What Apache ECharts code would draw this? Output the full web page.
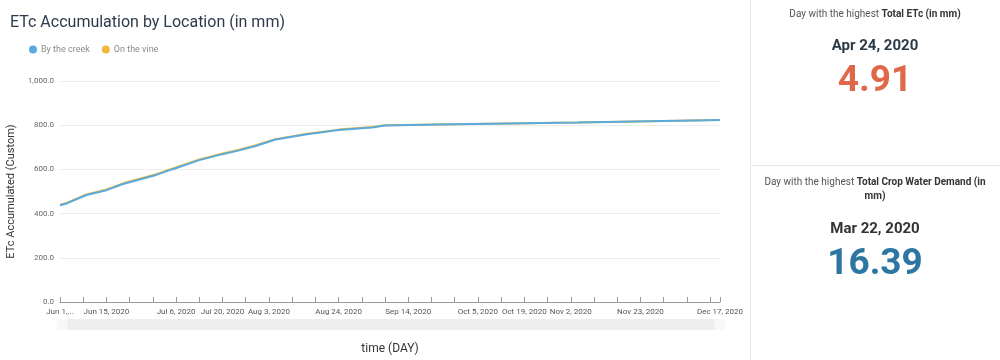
<!DOCTYPE html>
<html>
<head>
<meta charset="utf-8">
<script src="https://cdn.jsdelivr.net/npm/echarts@6/dist/echarts.min.js"></script>
<style>
html,body{margin:0;padding:0;background:#fff;}
#c{width:1000px;height:360px;}
</style>
</head>
<body>
<div id="c"></div>
<script>
// ---- data ----
var startDate = '2020-06-01';
var sampleDates = ['2020-06-01','2020-06-03','2020-06-09','2020-06-15','2020-06-20','2020-06-30','2020-07-05','2020-07-13','2020-07-20','2020-07-25','2020-07-30','2020-08-05','2020-08-14','2020-08-24','2020-09-03','2020-09-07','2020-09-23','2020-11-04','2020-12-17'];
var creekValues = [438,446,484,506,534,575,601,642,669,686,706,735,758,778,790,799,803,812,824];
var vineValues  = [440,448,487,509,537,578,604,645,672,689,709,737,760,780,792,800,803,812,824];
var tickLabelDates = ['2020-06-01','2020-06-15','2020-07-06','2020-07-20','2020-08-03','2020-08-24','2020-09-14','2020-10-05','2020-10-19','2020-11-02','2020-11-23','2020-12-17'];
var tickLabelTexts = ['Jun 1,...','Jun 15, 2020','Jul 6, 2020','Jul 20, 2020','Aug 3, 2020','Aug 24, 2020','Sep 14, 2020','Oct 5, 2020','Oct 19, 2020','Nov 2, 2020','Nov 23, 2020','Dec 17, 2020'];
var endDate = '2020-12-17';
var yTicks = [0,200,400,600,800,1000];
var card1 = {label:'Day with the highest ', bold:'Total ETc (in mm)', date:'Apr 24, 2020', value:'4.91'};
var card2 = {label:'Day with the highest ', bold:'Total Crop Water Demand (in', bold2:'mm)', date:'Mar 22, 2020', value:'16.39'};

function dayIndex(s){
  var p = s.split('-'), q = startDate.split('-');
  return Math.round((Date.UTC(+p[0],p[1]-1,+p[2]) - Date.UTC(+q[0],q[1]-1,+q[2]))/86400000);
}
var labelMap = {};
tickLabelDates.forEach(function(d,i){ labelMap[dayIndex(d)] = tickLabelTexts[i]; });
var creekData = sampleDates.map(function(d,i){ return [dayIndex(d), creekValues[i]]; });
var vineData = sampleDates.map(function(d,i){ return [dayIndex(d), vineValues[i]]; });

var font = 'Roboto, "Noto Sans", sans-serif';
var chart = echarts.init(document.getElementById('c'), null, {renderer:'canvas'});
chart.setOption({
  backgroundColor:'#fff',
  animation:false,
  textStyle:{fontFamily:font},
  title:{text:'ETc Accumulation by Location (in mm)', left:5, top:10,
    textStyle:{fontSize:16, fontWeight:'normal', color:'#2d3a4a', fontFamily:font}},
  legend:{left:24, top:40, itemWidth:8, itemHeight:8, itemGap:12, icon:'circle',
    textStyle:{fontSize:9, color:'#8a8a8a', fontFamily:font, padding:[0,0,0,-1]},
    data:['By the creek','On the vine']},
  grid:{left:60, right:280, top:81, bottom:58, containLabel:false, outerBoundsMode:'none'},
  xAxis:{type:'value', min:0, max:dayIndex(endDate), interval:7,
    name:'time (DAY)', nameLocation:'middle', nameGap:41,
    nameTextStyle:{fontSize:12, color:'#333', fontFamily:font},
    axisLine:{show:true, lineStyle:{color:'#9a9a9a', width:1}},
    axisTick:{show:true, inside:true, length:5, lineStyle:{color:'#9a9a9a'}},
    splitLine:{show:false},
    axisLabel:{show:true, fontSize:8, color:'#555', margin:6, showMaxLabel:true, showMinLabel:true, hideOverlap:false,
      formatter:function(v){ return labelMap[Math.round(v)] || ''; }}
  },
  yAxis:{type:'value', min:yTicks[0], max:yTicks[yTicks.length-1], interval:yTicks[1]-yTicks[0],
    name:'ETc Accumulated (Custom)', nameLocation:'middle', nameGap:40,
    nameTextStyle:{fontSize:11, color:'#333', fontFamily:font},
    axisLine:{show:false}, axisTick:{show:false},
    splitLine:{lineStyle:{color:'#eeeeee'}},
    axisLabel:{fontSize:8, color:'#666', margin:6,
      formatter:function(v){ return v.toLocaleString('en-US',{minimumFractionDigits:1, maximumFractionDigits:1}); }}
  },
  dataZoom:[{type:'slider', xAxisIndex:0, filterMode:'none', start:0, end:100,
    left:60, right:280, top:319, height:11,
    showDetail:false, showDataShadow:false, brushSelect:false, moveHandleSize:0,
    backgroundColor:'#f1f1f1', borderColor:'transparent', fillerColor:'rgba(236,236,236,0.5)',
    handleIcon:'path://M0,0 L10,0 L10,10 L0,10 Z', handleSize:'100%',
    handleStyle:{color:'#f8f8f8', borderColor:'transparent', borderWidth:0}
  }],
  series:[
    {name:'By the creek', type:'line', data:creekData, showSymbol:false, symbol:'circle', z:3,
      itemStyle:{color:'#59abde'}, lineStyle:{color:'#59abde', width:2}},
    {name:'On the vine', type:'line', data:vineData, showSymbol:false, symbol:'circle', z:2,
      itemStyle:{color:'#f2b63f'}, lineStyle:{color:'#f2b63f', width:2}}
  ],
  graphic:[
    {type:'line', shape:{x1:750.5,y1:0,x2:750.5,y2:360}, style:{stroke:'#e6e6e6', lineWidth:1}},
    {type:'line', shape:{x1:750,y1:165.5,x2:1000,y2:165.5}, style:{stroke:'#e6e6e6', lineWidth:1}},
    {type:'text', x:875, y:14, style:{text:card1.label+'{b|'+card1.bold+'}', align:'center', verticalAlign:'middle',
      font:'10px '+font, fill:'#555', rich:{b:{fontSize:10, fontWeight:'bold', fill:'#333', fontFamily:font}}}},
    {type:'text', x:875, y:46, style:{text:card1.date, align:'center', verticalAlign:'middle',
      font:'bold 15px '+font, fill:'#2c3a48'}},
    {type:'text', x:875, y:82, style:{text:card1.value, align:'center', verticalAlign:'middle',
      font:'bold 37px '+font, fill:'#e0684a'}},
    {type:'text', x:875, y:189, style:{text:card2.label+'{b|'+card2.bold+'}\n{b|'+card2.bold2+'}', align:'center', verticalAlign:'middle',
      font:'10px '+font, fill:'#555', lineHeight:14, rich:{b:{fontSize:10, fontWeight:'bold', fill:'#333', fontFamily:font, lineHeight:14}}}},
    {type:'text', x:875, y:229, style:{text:card2.date, align:'center', verticalAlign:'middle',
      font:'bold 15px '+font, fill:'#333'}},
    {type:'text', x:875, y:265, style:{text:card2.value, align:'center', verticalAlign:'middle',
      font:'bold 37px '+font, fill:'#2d76a1'}}
  ]
});
</script>
</body>
</html>
